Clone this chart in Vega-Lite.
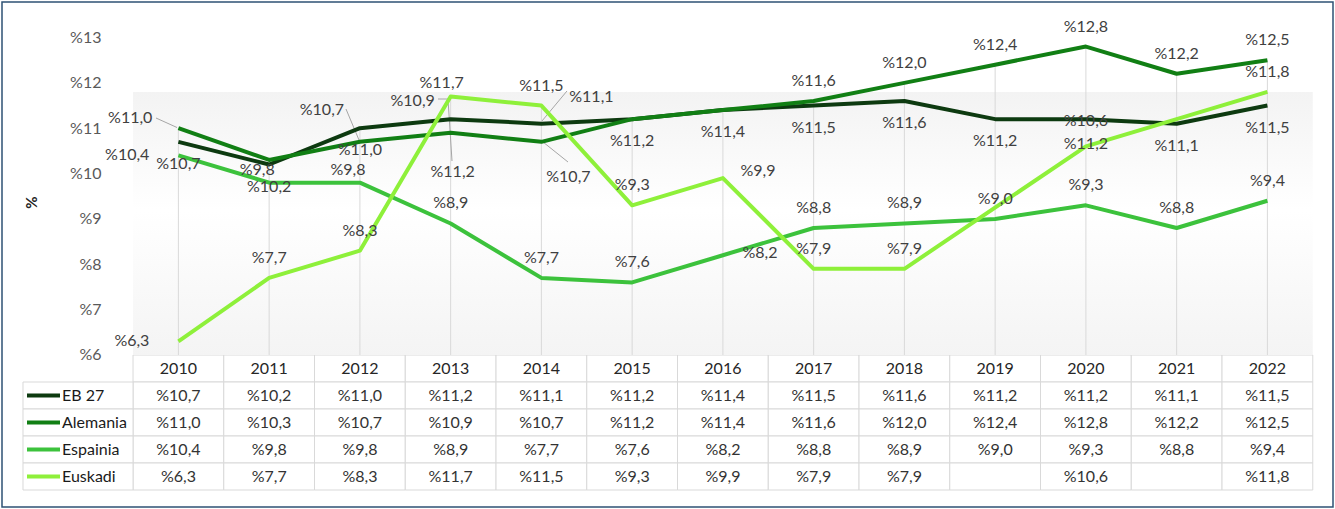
{
  "$schema": "https://vega.github.io/schema/vega-lite/v6.json",
  "width": 1331,
  "height": 505,
  "autosize": "none",
  "padding": 2,
  "config": {
    "view": {"stroke": "#2e5274", "strokeWidth": 1.5},
    "locale": {"number": {"decimal": ",", "thousands": ".", "grouping": [3], "currency": ["%", ""]}},
    "text": {"font": "Lato", "fontSize": 16},
    "axis": {"labelFont": "Lato", "titleFont": "Lato"}
  },
  "data": {
    "values": [
      {"s": "EB 27", "year": 2010, "v": 10.7}, {"s": "EB 27", "year": 2011, "v": 10.2}, {"s": "EB 27", "year": 2012, "v": 11.0},
      {"s": "EB 27", "year": 2013, "v": 11.2}, {"s": "EB 27", "year": 2014, "v": 11.1}, {"s": "EB 27", "year": 2015, "v": 11.2},
      {"s": "EB 27", "year": 2016, "v": 11.4}, {"s": "EB 27", "year": 2017, "v": 11.5}, {"s": "EB 27", "year": 2018, "v": 11.6},
      {"s": "EB 27", "year": 2019, "v": 11.2}, {"s": "EB 27", "year": 2020, "v": 11.2}, {"s": "EB 27", "year": 2021, "v": 11.1},
      {"s": "EB 27", "year": 2022, "v": 11.5},
      {"s": "Alemania", "year": 2010, "v": 11.0}, {"s": "Alemania", "year": 2011, "v": 10.3}, {"s": "Alemania", "year": 2012, "v": 10.7},
      {"s": "Alemania", "year": 2013, "v": 10.9}, {"s": "Alemania", "year": 2014, "v": 10.7}, {"s": "Alemania", "year": 2015, "v": 11.2},
      {"s": "Alemania", "year": 2016, "v": 11.4}, {"s": "Alemania", "year": 2017, "v": 11.6}, {"s": "Alemania", "year": 2018, "v": 12.0},
      {"s": "Alemania", "year": 2019, "v": 12.4}, {"s": "Alemania", "year": 2020, "v": 12.8}, {"s": "Alemania", "year": 2021, "v": 12.2},
      {"s": "Alemania", "year": 2022, "v": 12.5},
      {"s": "Espainia", "year": 2010, "v": 10.4}, {"s": "Espainia", "year": 2011, "v": 9.8}, {"s": "Espainia", "year": 2012, "v": 9.8},
      {"s": "Espainia", "year": 2013, "v": 8.9}, {"s": "Espainia", "year": 2014, "v": 7.7}, {"s": "Espainia", "year": 2015, "v": 7.6},
      {"s": "Espainia", "year": 2016, "v": 8.2}, {"s": "Espainia", "year": 2017, "v": 8.8}, {"s": "Espainia", "year": 2018, "v": 8.9},
      {"s": "Espainia", "year": 2019, "v": 9.0}, {"s": "Espainia", "year": 2020, "v": 9.3}, {"s": "Espainia", "year": 2021, "v": 8.8},
      {"s": "Espainia", "year": 2022, "v": 9.4},
      {"s": "Euskadi", "year": 2010, "v": 6.3}, {"s": "Euskadi", "year": 2011, "v": 7.7}, {"s": "Euskadi", "year": 2012, "v": 8.3},
      {"s": "Euskadi", "year": 2013, "v": 11.7}, {"s": "Euskadi", "year": 2014, "v": 11.5}, {"s": "Euskadi", "year": 2015, "v": 9.3},
      {"s": "Euskadi", "year": 2016, "v": 9.9}, {"s": "Euskadi", "year": 2017, "v": 7.9}, {"s": "Euskadi", "year": 2018, "v": 7.9},
      {"s": "Euskadi", "year": 2019, "v": null}, {"s": "Euskadi", "year": 2020, "v": 10.6}, {"s": "Euskadi", "year": 2021, "v": null},
      {"s": "Euskadi", "year": 2022, "v": 11.8}
    ]
  },
  "resolve": {"scale": {"y": "independent"}},
  "layer": [
    {
      "layer": [
        {
          "mark": {"type": "bar", "orient": "vertical", "width": 90.75, "fill": "#ffffff", "stroke": "#d9d9d9", "strokeWidth": 1},
          "transform": [{"filter": "datum.s=='EB 27'"}],
          "encoding": {
            "x": {"field": "year", "type": "quantitative", "scale": {"domain": [2008.0562, 2022.7229], "nice": false, "zero": false, "padding": 0}, "axis": null},
            "y": {"datum": "header", "type": "nominal",
                  "scale": {"domain": ["header", "EB 27", "Alemania", "Espainia", "Euskadi"], "range": [353, 488], "paddingInner": 0, "paddingOuter": 0}, "axis": null}
          }
        },
        {
          "mark": {"type": "bar", "orient": "vertical", "width": 90.75, "fill": "#ffffff", "stroke": "#d9d9d9", "strokeWidth": 1},
          "encoding": {
            "x": {"field": "year", "type": "quantitative", "axis": null},
            "y": {"field": "s", "type": "nominal", "axis": null}
          }
        },
        {
          "transform": [{"filter": "datum.year==2010"}],
          "mark": {"type": "rect", "fill": "#ffffff", "stroke": "#d9d9d9", "strokeWidth": 1},
          "encoding": {
            "x": {"datum": 2008.2876, "type": "quantitative", "axis": null},
            "x2": {"datum": 2009.5},
            "y": {"field": "s", "type": "nominal", "axis": null}
          }
        },
        {
          "transform": [{"filter": "datum.year==2010"}],
          "mark": {"type": "rule", "strokeWidth": 4},
          "encoding": {
            "x": {"datum": 2008.3317, "type": "quantitative", "axis": null},
            "x2": {"datum": 2008.6953},
            "y": {"field": "s", "type": "nominal", "axis": null},
            "color": {"field": "s", "type": "nominal", "legend": null,
                      "scale": {"domain": ["EB 27", "Alemania", "Espainia", "Euskadi"], "range": ["#0d3a10", "#117f14", "#3cc23c", "#8ef03a"]}}
          }
        },
        {
          "transform": [{"filter": "datum.year==2010"}],
          "mark": {"type": "text", "align": "left", "fill": "#1a1a1a"},
          "encoding": {
            "x": {"datum": 2008.7174, "type": "quantitative", "axis": null},
            "y": {"field": "s", "type": "nominal", "axis": null},
            "text": {"field": "s", "type": "nominal"}
          }
        },
        {
          "transform": [{"filter": "datum.s=='EB 27'"}],
          "mark": {"type": "text", "fill": "#262626"},
          "encoding": {
            "x": {"field": "year", "type": "quantitative", "axis": null},
            "y": {"datum": "header", "type": "nominal", "axis": null},
            "text": {"field": "year", "type": "quantitative", "format": "d"}
          }
        },
        {
          "transform": [{"filter": "isValid(datum.v)"}],
          "mark": {"type": "text", "fill": "#333333"},
          "encoding": {
            "x": {"field": "year", "type": "quantitative", "axis": null},
            "y": {"field": "s", "type": "nominal", "axis": null},
            "text": {"field": "v", "type": "quantitative", "format": "$.1f"}
          }
        }
      ]
    },
    {
      "layer": [
        {
          "data": {"values": [{}]},
          "mark": {"type": "rect", "fill": {"gradient": "linear", "x1": 0, "y1": 0, "x2": 0, "y2": 1,
                   "stops": [{"offset": 0, "color": "#f3f3f3"}, {"offset": 0.45, "color": "#ffffff"}, {"offset": 1, "color": "#f4f4f4"}]}},
          "encoding": {
            "x": {"datum": 2009.5, "type": "quantitative", "axis": null},
            "x2": {"datum": 2022.5},
            "y": {"datum": 11.8, "type": "quantitative", "scale": {"domain": [2.6488, 13.7827], "nice": false, "zero": false},
                  "axis": {"orient": "left", "title": "%", "values": [6, 7, 8, 9, 10, 11, 12, 13], "labelExpr": "'%' + datum.value", "offset": -99,
                       "grid": false, "domain": false, "ticks": false, "tickSize": 0, "labelPadding": 0,
                       "labelFontSize": 16, "labelColor": "#595959",
                       "titleX": -70, "titleY": 200, "titleAngle": 270, "titleAlign": "center", "titleBaseline": "middle",
                       "titleFontSize": 15, "titleFontWeight": "bold", "titleColor": "#222222"}},
            "y2": {"datum": 6}
          }
        },
        {
          "mark": {"type": "rule", "color": "#d9d9d9", "strokeWidth": 1},
          "encoding": {
            "x": {"field": "year", "type": "quantitative", "axis": null},
            "y": {"aggregate": "max", "field": "v", "type": "quantitative", "title": "%"},
            "y2": {"datum": 6}
          }
        },
        {
          "data": {"values": [{}]},
          "mark": {"type": "rule", "color": "#a6a6a6", "strokeWidth": 1},
          "encoding": {"x": {"datum": 2009.7532, "type": "quantitative"}, "x2": {"datum": 2009.9846}, "y": {"datum": 11.2252, "type": "quantitative"}, "y2": {"datum": 11.0157}}
        },
        {
          "data": {"values": [{}]},
          "mark": {"type": "rule", "color": "#a6a6a6", "strokeWidth": 1},
          "encoding": {"x": {"datum": 2011.8468, "type": "quantitative"}, "x2": {"datum": 2011.9901}, "y": {"datum": 11.4236, "type": "quantitative"}, "y2": {"datum": 10.7401}}
        },
        {
          "data": {"values": [{}]},
          "mark": {"type": "rule", "color": "#a6a6a6", "strokeWidth": 1},
          "encoding": {"x": {"datum": 2012.8606, "type": "quantitative"}, "x2": {"datum": 2012.9708}, "y": {"datum": 11.6441, "type": "quantitative"}, "y2": {"datum": 11.6441}}
        },
        {
          "data": {"values": [{}]},
          "mark": {"type": "rule", "color": "#a6a6a6", "strokeWidth": 1},
          "encoding": {"x": {"datum": 2012.9708, "type": "quantitative"}, "x2": {"datum": 2013.0149}, "y": {"datum": 11.6441, "type": "quantitative"}, "y2": {"datum": 10.2771}}
        },
        {
          "data": {"values": [{}]},
          "mark": {"type": "rule", "color": "#a6a6a6", "strokeWidth": 1},
          "encoding": {"x": {"datum": 2014.0066, "type": "quantitative"}, "x2": {"datum": 2014.2821}, "y": {"datum": 11.1591, "type": "quantitative"}, "y2": {"datum": 11.8205}}
        },
        {
          "data": {"values": [{}]},
          "mark": {"type": "rule", "color": "#a6a6a6", "strokeWidth": 1},
          "encoding": {"x": {"datum": 2014.0176, "type": "quantitative"}, "x2": {"datum": 2014.2931}, "y": {"datum": 10.6961, "type": "quantitative"}, "y2": {"datum": 10.2551}}
        },
        {
          "transform": [{"filter": "isValid(datum.v)"}],
          "mark": {"type": "line", "strokeWidth": 4, "strokeJoin": "round"},
          "encoding": {
            "x": {"field": "year", "type": "quantitative"},
            "y": {"field": "v", "type": "quantitative", "title": "%"},
            "color": {"field": "s", "type": "nominal", "legend": null}
          }
        },
        {
          "transform": [{"filter": "(datum.s=='Alemania' && datum.year>=2017) || (datum.s=='Espainia' && indexof([2013,2014,2015,2017,2018,2019,2020,2021,2022], datum.year)>=0) || (datum.s=='Euskadi' && indexof([2011,2012,2014,2015,2017,2018,2022], datum.year)>=0)"}],
          "mark": {"type": "text", "dy": -20, "fill": "#404040"},
          "encoding": {"x": {"field": "year", "type": "quantitative"}, "y": {"field": "v", "type": "quantitative", "title": "%"}, "text": {"field": "v", "type": "quantitative", "format": "$.1f"}}
        },
        {
          "transform": [{"filter": "datum.s=='Euskadi' && datum.year==2020"}],
          "mark": {"type": "text", "dy": -25, "fill": "#404040"},
          "encoding": {"x": {"field": "year", "type": "quantitative"}, "y": {"field": "v", "type": "quantitative", "title": "%"}, "text": {"field": "v", "type": "quantitative", "format": "$.1f"}}
        },
        {
          "transform": [{"filter": "datum.s=='EB 27' && datum.year!=2013 && datum.year!=2014 && datum.year!=2020"}],
          "mark": {"type": "text", "dy": 22, "fill": "#404040"},
          "encoding": {"x": {"field": "year", "type": "quantitative"}, "y": {"field": "v", "type": "quantitative", "title": "%"}, "text": {"field": "v", "type": "quantitative", "format": "$.1f"}}
        },
        {
          "transform": [{"filter": "datum.s=='EB 27' && datum.year==2020"}],
          "mark": {"type": "text", "dy": 25, "fill": "#404040"},
          "encoding": {"x": {"field": "year", "type": "quantitative"}, "y": {"field": "v", "type": "quantitative", "title": "%"}, "text": {"field": "v", "type": "quantitative", "format": "$.1f"}}
        },
        {
          "transform": [{"filter": "datum.s=='EB 27' && datum.year==2013"}],
          "mark": {"type": "text", "dx": 2, "dy": 53, "fill": "#404040"},
          "encoding": {"x": {"field": "year", "type": "quantitative"}, "y": {"field": "v", "type": "quantitative", "title": "%"}, "text": {"field": "v", "type": "quantitative", "format": "$.1f"}}
        },
        {
          "transform": [{"filter": "datum.s=='EB 27' && datum.year==2014"}],
          "mark": {"type": "text", "dx": 50, "dy": -27, "fill": "#404040"},
          "encoding": {"x": {"field": "year", "type": "quantitative"}, "y": {"field": "v", "type": "quantitative", "title": "%"}, "text": {"field": "v", "type": "quantitative", "format": "$.1f"}}
        },
        {
          "transform": [{"filter": "datum.s=='Alemania' && datum.year==2010"}],
          "mark": {"type": "text", "align": "right", "dx": -26, "dy": -10, "fill": "#404040"},
          "encoding": {"x": {"field": "year", "type": "quantitative"}, "y": {"field": "v", "type": "quantitative", "title": "%"}, "text": {"field": "v", "type": "quantitative", "format": "$.1f"}}
        },
        {
          "transform": [{"filter": "datum.s=='Alemania' && (datum.year==2012 || datum.year==2013)"}],
          "mark": {"type": "text", "dx": -38, "dy": -32, "fill": "#404040"},
          "encoding": {"x": {"field": "year", "type": "quantitative"}, "y": {"field": "v", "type": "quantitative", "title": "%"}, "text": {"field": "v", "type": "quantitative", "format": "$.1f"}}
        },
        {
          "transform": [{"filter": "datum.s=='Alemania' && datum.year==2014"}],
          "mark": {"type": "text", "dx": 27, "dy": 35, "fill": "#404040"},
          "encoding": {"x": {"field": "year", "type": "quantitative"}, "y": {"field": "v", "type": "quantitative", "title": "%"}, "text": {"field": "v", "type": "quantitative", "format": "$.1f"}}
        },
        {
          "transform": [{"filter": "(datum.s=='Espainia' || datum.s=='Euskadi') && datum.year==2010"}],
          "mark": {"type": "text", "align": "right", "dx": -29, "dy": 0, "fill": "#404040"},
          "encoding": {"x": {"field": "year", "type": "quantitative"}, "y": {"field": "v", "type": "quantitative", "title": "%"}, "text": {"field": "v", "type": "quantitative", "format": "$.1f"}}
        },
        {
          "transform": [{"filter": "datum.s=='Espainia' && (datum.year==2011 || datum.year==2012)"}],
          "mark": {"type": "text", "dx": -12, "dy": -13, "fill": "#404040"},
          "encoding": {"x": {"field": "year", "type": "quantitative"}, "y": {"field": "v", "type": "quantitative", "title": "%"}, "text": {"field": "v", "type": "quantitative", "format": "$.1f"}}
        },
        {
          "transform": [{"filter": "datum.s=='Espainia' && datum.year==2016"}],
          "mark": {"type": "text", "dx": 37, "dy": -2, "fill": "#404040"},
          "encoding": {"x": {"field": "year", "type": "quantitative"}, "y": {"field": "v", "type": "quantitative", "title": "%"}, "text": {"field": "v", "type": "quantitative", "format": "$.1f"}}
        },
        {
          "transform": [{"filter": "datum.s=='Euskadi' && datum.year==2013"}],
          "mark": {"type": "text", "dx": -9, "dy": -13, "fill": "#404040"},
          "encoding": {"x": {"field": "year", "type": "quantitative"}, "y": {"field": "v", "type": "quantitative", "title": "%"}, "text": {"field": "v", "type": "quantitative", "format": "$.1f"}}
        },
        {
          "transform": [{"filter": "datum.s=='Euskadi' && datum.year==2016"}],
          "mark": {"type": "text", "dx": 35, "dy": -7, "fill": "#404040"},
          "encoding": {"x": {"field": "year", "type": "quantitative"}, "y": {"field": "v", "type": "quantitative", "title": "%"}, "text": {"field": "v", "type": "quantitative", "format": "$.1f"}}
        }
      ]
    }
  ]
}
